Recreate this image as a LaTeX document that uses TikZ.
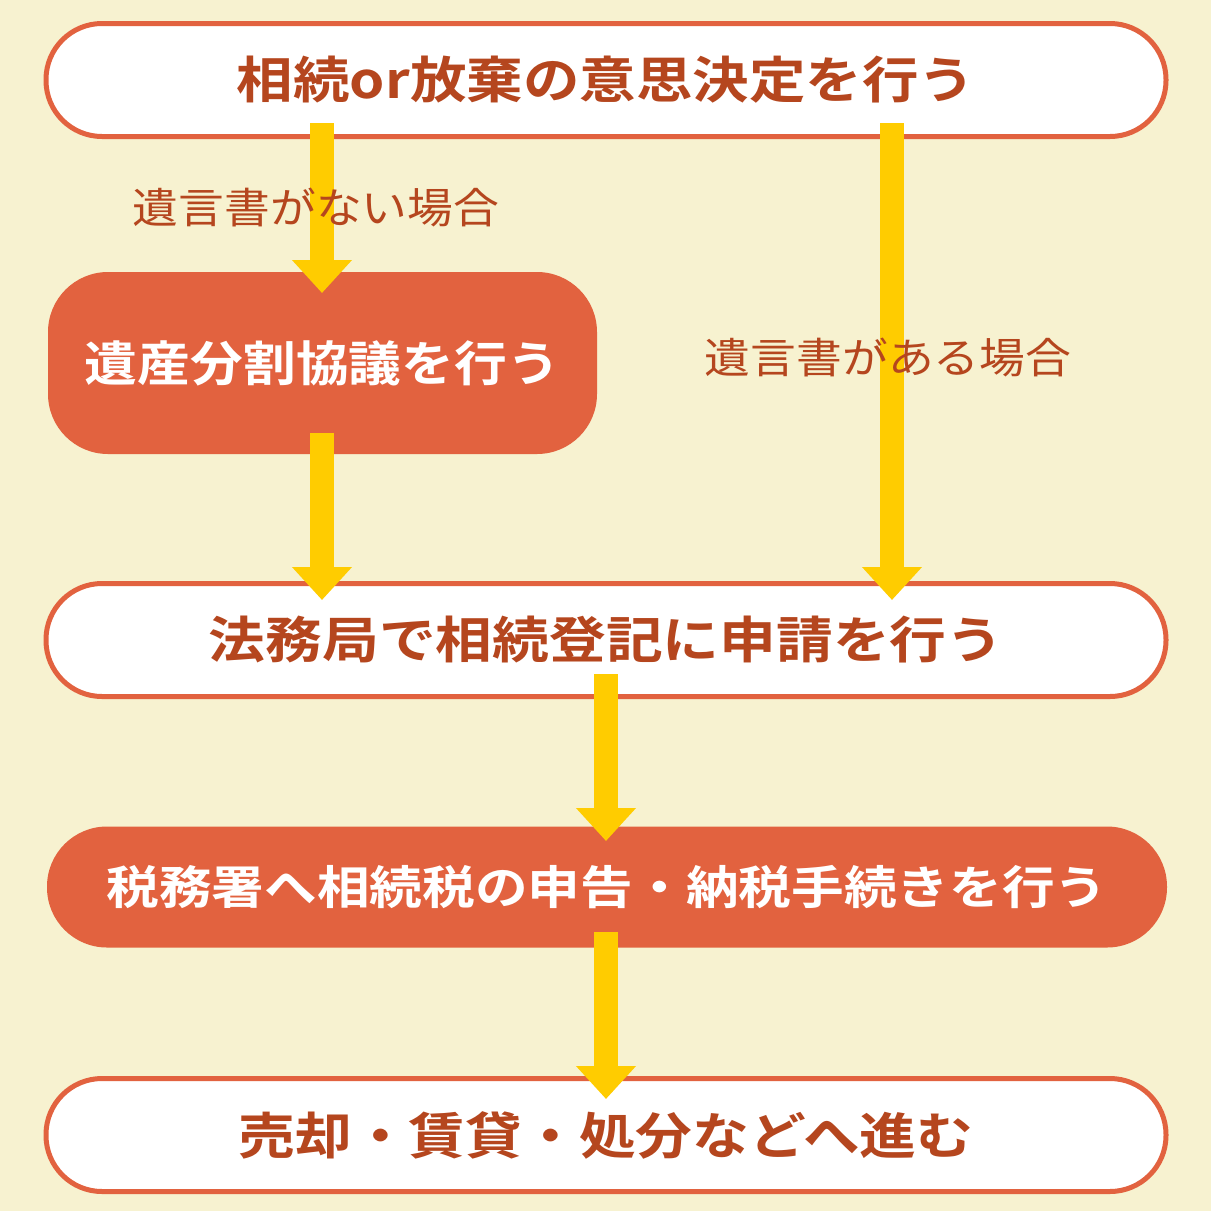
\documentclass[tikz,border=0pt]{standalone}
\usepackage{fontspec}
\newfontfamily\jp{Noto Sans CJK JP}[BoldFont={* Bold}]
\usetikzlibrary{arrows.meta}
\definecolor{bg}{HTML}{F7F2D0}
\definecolor{org}{HTML}{E2623F}
\definecolor{brn}{HTML}{B5461E}
\definecolor{ylw}{HTML}{FFCC00}
\newcommand{\wx}[2]{\scalebox{#1}[1]{#2}}
\begin{document}
\begin{tikzpicture}[x=1pt,y=-1pt,
 wbox/.style={draw=org,line width=5pt,fill=white,rounded corners=56pt,minimum height=113pt,text=brn,font=\jp\bfseries\fontsize{50}{50}\selectfont},
 obox/.style={fill=org,rounded corners=60pt,text=white,font=\jp\bfseries\fontsize{48}{48}\selectfont},
 arr/.style={draw=ylw,line width=24pt,-{Triangle[width=58pt,length=33pt]}},
 lbl/.style={text=brn,font=\jp\fontsize{42}{42}\selectfont}]
\fill[bg] (0,0) rectangle (1211,1211);
\node[wbox,minimum width=1120pt] (b1) at (606,80) {\wx{1.13}{相続or放棄の意思決定を行う}};
\node[obox,minimum width=549pt,minimum height=182pt] (b2) at (322.5,363) {\wx{1.1}{遺産分割協議を行う}};
\node[wbox,minimum width=1120pt] (b3) at (606,640) {\wx{1.135}{法務局で相続登記に申請を行う}};
\node[obox,minimum width=1120pt,minimum height=121pt,font=\jp\bfseries\fontsize{46}{46}\selectfont] (b4) at (607,887) {\wx{1.145}{税務署へ相続税の申告・納税手続きを行う}};
\node[wbox,minimum width=1120pt] (b5) at (606,1135) {\wx{1.135}{売却・賃貸・処分などへ進む}};
\coordinate (a1s) at (322,123); \coordinate (a1e) at (322,293);
\coordinate (a2s) at (322,433); \coordinate (a2e) at (322,600);
\coordinate (a3s) at (892,123); \coordinate (a3e) at (892,600);
\coordinate (a4s) at (606,674); \coordinate (a4e) at (606,841);
\coordinate (a5s) at (606,932); \coordinate (a5e) at (606,1099);
\draw[arr] (a1s) -- (a1e);
\draw[arr] (a2s) -- (a2e);
\draw[arr] (a3s) -- (a3e);
\draw[arr] (a4s) -- (a4e);
\draw[arr] (a5s) -- (a5e);
\node[lbl] (l1) at (316,207) {\wx{1.09}{遺言書がない場合}};
\node[lbl] (l2) at (888,357) {\wx{1.09}{遺言書がある場合}};
\end{tikzpicture}
\end{document}
